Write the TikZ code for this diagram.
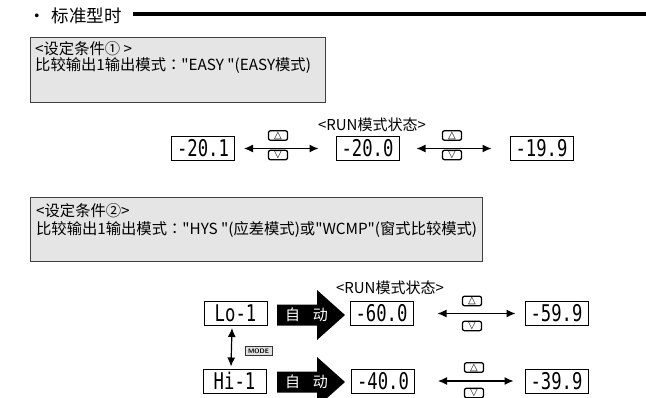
\documentclass[tikz,border=0pt]{standalone}
\usepackage{fontspec}
\setmainfont{Noto Sans CJK SC}[Ligatures=TeXOff]
\newfontfamily\tcfont{Noto Sans CJK TC}[Ligatures=TeXOff]
\newfontfamily\segfont[FakeStretch=0.75]{DejaVu Sans Mono}
\newfontfamily\symfont{DejaVu Sans}
\usetikzlibrary{arrows.meta}
\begin{document}
\begin{tikzpicture}[x=1pt,y=-1pt,
  condbox/.style={draw=black!75, line width=0.8pt, fill=black!10, inner sep=0pt},
  ctext/.style={anchor=west, inner sep=0pt, font=\fontsize{15.3}{17}\selectfont},
  disp/.style={draw, line width=1pt, fill=white, minimum width=63pt, minimum height=24pt, inner sep=0pt, font=\segfont\fontsize{23}{23}\selectfont},
  btn/.style={draw, line width=1.3pt, rounded corners=2pt, minimum width=19pt, minimum height=9.5pt, inner sep=0pt, font=\symfont\fontsize{10}{10}\selectfont},
  dblarrow/.style={{Latex[length=9pt,width=8pt]}-{Latex[length=9pt,width=8pt]}, line width=1.2pt},
  runlbl/.style={inner sep=0pt, font=\fontsize{15}{16}\selectfont},
  modebox/.style={draw=black!80, fill=black!12, line width=1pt, inner sep=0pt, minimum width=27pt, minimum height=9pt, font=\sffamily\bfseries\fontsize{6.5}{6.5}\selectfont},
  autoarr/.pic={
    \fill (-34,-10.5) -- (6,-10.5) -- (6,-25) -- (34,0) -- (6,25) -- (6,10.5) -- (-34,10.5) -- cycle;
    \node[text=white, inner sep=0pt, font=\fontsize{15}{15}\selectfont] (-txt) at (-4.5,0) {自\hspace{0.85em}动};
  }]
\useasboundingbox (0,0) rectangle (646,397);
\clip (0,0) rectangle (646,397);

% title
\node[anchor=west, inner sep=0pt, font=\fontsize{17.5}{18}\selectfont] (title) at (28,16) {·\hspace{0.35em}标准型时};
\coordinate (ls) at (133,14);
\coordinate (le) at (646,14);
\draw[line width=3.5pt] (ls) -- (le);

% condition 1
\node[condbox, minimum width=295pt, minimum height=65pt] (c1) at (177.5,69.5) {};
\node[ctext] (c1a) at (35,48.5) {<设定条件① >};
\node[ctext] (c1b) at (35,65.5) {比较输出1输出模式{\tcfont ：}"EASY "(EASY模式)};

% row 1
\node[runlbl] (run1) at (372,125) {<RUN模式状态>};
\node[disp] (d11) at (203,148.5) {-20.1};
\node[disp] (d12) at (367.5,148.5) {-20.0};
\node[disp] (d13) at (541.5,148.5) {-19.9};
\draw[dblarrow] ([xshift=9pt]d11.east) -- ([xshift=-17pt]d12.west);
\draw[dblarrow] ([xshift=17pt]d12.east) -- ([xshift=-18pt]d13.west);
\node[btn] (u11) at (278,135.5) {△};
\node[btn] (v11) at (278,155) {▽};
\node[btn] (u12) at (452,135.5) {△};
\node[btn] (v12) at (452,155) {▽};

% condition 2
\node[condbox, minimum width=452pt, minimum height=64pt] (c2) at (256,229) {};
\node[ctext] (c2a) at (36,210.5) {<设定条件②>};
\node[ctext] (c2b) at (36,229.5) {比较输出1输出模式{\tcfont ：}"HYS "(应差模式)或"WCMP"(窗式比较模式)};

% row 2
\node[runlbl] (run2) at (390,288) {<RUN模式状态>};
\node[disp] (lo) at (235.5,313.5) {Lo-1};
\pic (auto2) at (311,315) {autoarr};
\node[disp] (d22) at (381.5,313.5) {-60.0};
\node[disp] (d23) at (556.5,313.5) {-59.9};
\draw[dblarrow] ([xshift=24pt]d22.east) -- ([xshift=-9pt]d23.west);
\node[btn] (u2) at (472,301) {△};
\node[btn] (v2) at (472,326) {▽};

% row 3
\node[disp] (hi) at (234.5,381) {Hi-1};
\pic (auto3) at (311,382) {autoarr};
\node[disp] (d32) at (383,381) {-40.0};
\node[disp] (d33) at (556.5,381) {-39.9};
\draw[dblarrow] ([xshift=23pt]d32.east) -- ([xshift=-11pt]d33.west);
\node[btn] (u3) at (474,367.5) {△};
\node[btn] (v3) at (474,393) {▽};

% mode switch
\draw[dblarrow] ([xshift=-3.5pt,yshift=-2pt]lo.south) -- ([xshift=-3.5pt,yshift=2pt]hi.north);
\node[modebox] (mode) at (258.5,351) {MODE};
\end{tikzpicture}
\end{document}
